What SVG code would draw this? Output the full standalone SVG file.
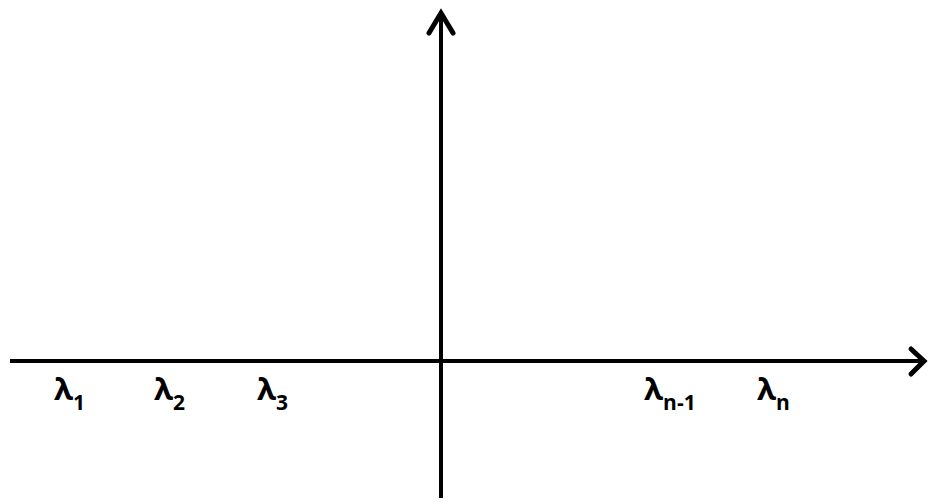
<svg xmlns="http://www.w3.org/2000/svg" width="929" height="502" viewBox="0 0 929 502">
<style>
.ax{stroke:#000;stroke-width:4;fill:none}
.hd{stroke:#000;stroke-width:5;fill:none;stroke-linecap:round;stroke-linejoin:miter}
.l{font-family:"Open Sans","Liberation Sans",sans-serif;font-weight:bold;font-size:31px;fill:#000}
.s{font-size:21px}
</style>
<rect width="929" height="502" fill="#fff"/>
<g id="connectors">
<line class="ax" x1="10" y1="361" x2="922" y2="361"/>
<polyline class="hd" points="911,349 924,361 911,374"/>
<line class="ax" x1="441" y1="498" x2="441" y2="14"/>
<polyline class="hd" points="429,33 441,13 453,33"/>
</g>
<g id="labels">
<text class="l" x="54" y="400">λ<tspan class="s" dy="10">1</tspan></text>
<text class="l" x="154" y="400">λ<tspan class="s" dy="10">2</tspan></text>
<text class="l" x="257" y="400">λ<tspan class="s" dy="10">3</tspan></text>
<text class="l" x="644" y="400">λ<tspan class="s" dy="10">n-1</tspan></text>
<text class="l" x="757" y="400">λ<tspan class="s" dy="10">n</tspan></text>
</g>
</svg>
